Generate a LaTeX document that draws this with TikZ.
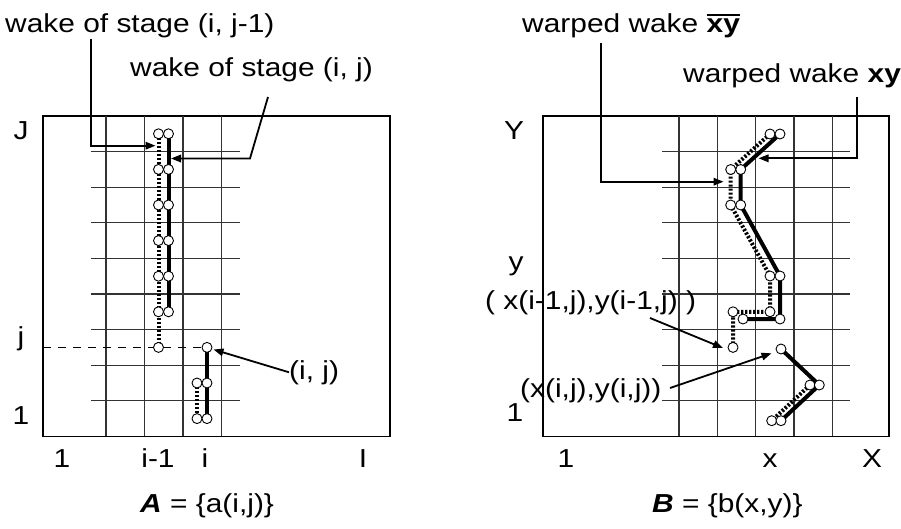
\documentclass[tikz,border=0pt]{standalone}
\usepackage{fontspec}
\setmainfont[FakeStretch=1.15]{Liberation Sans}
\usetikzlibrary{arrows.meta}
\newsavebox{\obarbox}
\newcommand{\obar}[1]{\leavevmode\sbox{\obarbox}{#1}%
  \rlap{\rule[\dimexpr\ht\obarbox+3pt\relax]{\wd\obarbox}{1.8pt}}\usebox{\obarbox}}

\begin{document}
\begin{tikzpicture}[x=1pt, y=-1pt,
    frame/.style={draw, line width=1.4pt},
    gridln/.style={draw=black!80, line width=1.2pt},
    lbl/.style={inner sep=0pt, font=\fontsize{26}{31}\selectfont},
    wake/.style={line width=4pt},
    wakeb/.style={line width=4pt, dash pattern=on 2.2pt off 1.8pt},
    pnt/.style={draw, fill=white, line width=0.9pt},
    arr/.style={-{Triangle[length=10pt, width=7.5pt]}, line width=1.8pt}
  ]
  \useasboundingbox (0,0) rectangle (901,529);

  % ---- left panel: A = {a(i,j)}
  \draw[frame] (43,116) rectangle (390,436.4);
  \foreach \k in {1,...,8}
    \draw[gridln] (90.7,116+\k*35.6) -- (240,116+\k*35.6);
  \foreach \xx in {106,144.5,183,221.5}
    \draw[gridln] (\xx,116) -- (\xx,436.4);

  \foreach \r in {0,...,6} {
    \coordinate (d\r) at (158.5,133.8+\r*35.6);
    \coordinate (s\r) at (168.5,133.8+\r*35.6);
  }
  \coordinate (ds1) at (197,383);
  \coordinate (ds2) at (197,418.6);
  \coordinate (ss0) at (207,347.4);
  \coordinate (ss1) at (207,383);
  \coordinate (ss2) at (207,418.6);

  \draw[dash pattern=on 8pt off 7pt, line width=1pt] (43,347.4) -- (ss0);

  \draw[wakeb] (d0) -- (d6);
  \draw[wake] (s0) -- (s5);
  \draw[wakeb] (ds1) -- (ds2);
  \draw[wake] (ss0) -- (ss2);
  \foreach \r in {0,...,6} \draw[pnt] (d\r) circle[radius=5pt];
  \foreach \r in {0,...,5} \draw[pnt] (s\r) circle[radius=5pt];
  \foreach \c in {ds1,ds2,ss0,ss1,ss2} \draw[pnt] (\c) circle[radius=5pt];

  \node[lbl, anchor=base] (labJ) at (21,140) {J};
  \node[lbl, anchor=base] (labj) at (21,345) {j};
  \node[lbl, anchor=base] (labone) at (21,424) {1};
  \node[lbl, anchor=base] (labi0) at (62,467) {1};
  \node[lbl, anchor=base] (labim) at (158,467) {i-1};
  \node[lbl, anchor=base] (labi) at (205,467) {i};
  \node[lbl, anchor=base] (labI) at (363,467) {I};
  \node[lbl, anchor=base west] (capA) at (140,512) {\textbf{\textit{A}} = \{a(i,j)\}};

  \node[lbl, anchor=base west] (wprev) at (5,33) {wake of stage (i, j-1)};
  \node[lbl, anchor=base west] (wcur) at (130,77) {wake of stage (i, j)};
  \node[lbl, anchor=base west] (pij) at (289,379) {(i, j)};

  \coordinate (c1) at (90.7,39);
  \coordinate (tp1) at (155.5,145.7);
  \coordinate (c2) at (268,97);
  \coordinate (k2) at (250,158.5);
  \coordinate (tp2) at (171,158.5);
  \coordinate (tp3) at (213.5,349.5);
  \draw[arr] (c1) |- (tp1);
  \draw[arr] (c2) -- (k2) -- (tp2);
  \draw[arr] (pij.west) -- (tp3);

  % ---- right panel: B = {b(x,y)}
  \draw[frame] (543,116) rectangle (889,436.4);
  \foreach \k in {1,...,8}
    \draw[gridln] (662,116+\k*35.6) -- (850,116+\k*35.6);
  \foreach \xx in {679,717.3,755.6,793.9,832.2}
    \draw[gridln] (\xx,116) -- (\xx,436.4);

  \coordinate (b1) at (770,134);
  \coordinate (b2) at (730.7,169.5);
  \coordinate (b3) at (730.7,205);
  \coordinate (b4) at (770,276);
  \coordinate (b5) at (770,311.8);
  \coordinate (b6) at (733,311.8);
  \coordinate (b7) at (733,347.4);
  \coordinate (a1) at (780,134);
  \coordinate (a2) at (740.7,169.5);
  \coordinate (a3) at (740.7,205);
  \coordinate (a4) at (780,276);
  \coordinate (a5) at (780,319);
  \coordinate (a6) at (743,319);
  \coordinate (n1) at (781,349);
  \coordinate (n2) at (819.3,385);
  \coordinate (n3) at (781,420.7);
  \coordinate (m2) at (810,385);
  \coordinate (m3) at (771.7,420.7);

  \draw[wakeb] (b1) -- (b2) -- (b3) -- (b4) -- (b5) -- (b6) -- (b7);
  \draw[wake] (a1) -- (a2) -- (a3) -- (a4) -- (a5) -- (a6);
  \draw[wakeb] (m2) -- (m3);
  \draw[wake] (n1) -- (n2) -- (n3);
  \foreach \c in {b1,b2,b3,b4,b5,b6,b7,a1,a2,a3,a4,a5,a6,n1,m2,n2,m3,n3}
    \draw[pnt] (\c) circle[radius=5pt];

  \node[lbl, anchor=base] (labY) at (514,140) {Y};
  \node[lbl, anchor=base] (laby) at (516,270) {y};
  \node[lbl, anchor=base] (labyone) at (515,421) {1};
  \node[lbl, anchor=base] (labx0) at (566,467) {1};
  \node[lbl, anchor=base] (labx) at (770,467) {x};
  \node[lbl, anchor=base] (labX) at (872,467) {X};
  \node[lbl, anchor=base west] (capB) at (652,512) {\textbf{\textit{B}} = \{b(x,y)\}};

  \node[lbl, anchor=base west] (wbar) at (522,33) {warped wake \obar{\bfseries xy}};
  \node[lbl, anchor=base west] (wxy) at (683,83) {warped wake \textbf{xy}};
  \node[lbl, anchor=base west] (pprev) at (485,309) {( x(i-1,j),y(i-1,j) )};
  \node[lbl, anchor=base west] (pxy) at (520,397) {(x(i,j),y(i,j))};

  \coordinate (c4) at (600.7,43);
  \coordinate (tp4) at (723.5,181.7);
  \coordinate (c5) at (856.7,97);
  \coordinate (tp5) at (758.5,158.3);
  \coordinate (c6) at (650,318);
  \coordinate (tp6) at (723,348);
  \coordinate (c7) at (670,388);
  \coordinate (tp7) at (771.5,353.3);
  \draw[arr] (c4) |- (tp4);
  \draw[arr] (c5) |- (tp5);
  \draw[arr] (c6) -- (tp6);
  \draw[arr] (c7) -- (tp7);
\end{tikzpicture}
\end{document}
